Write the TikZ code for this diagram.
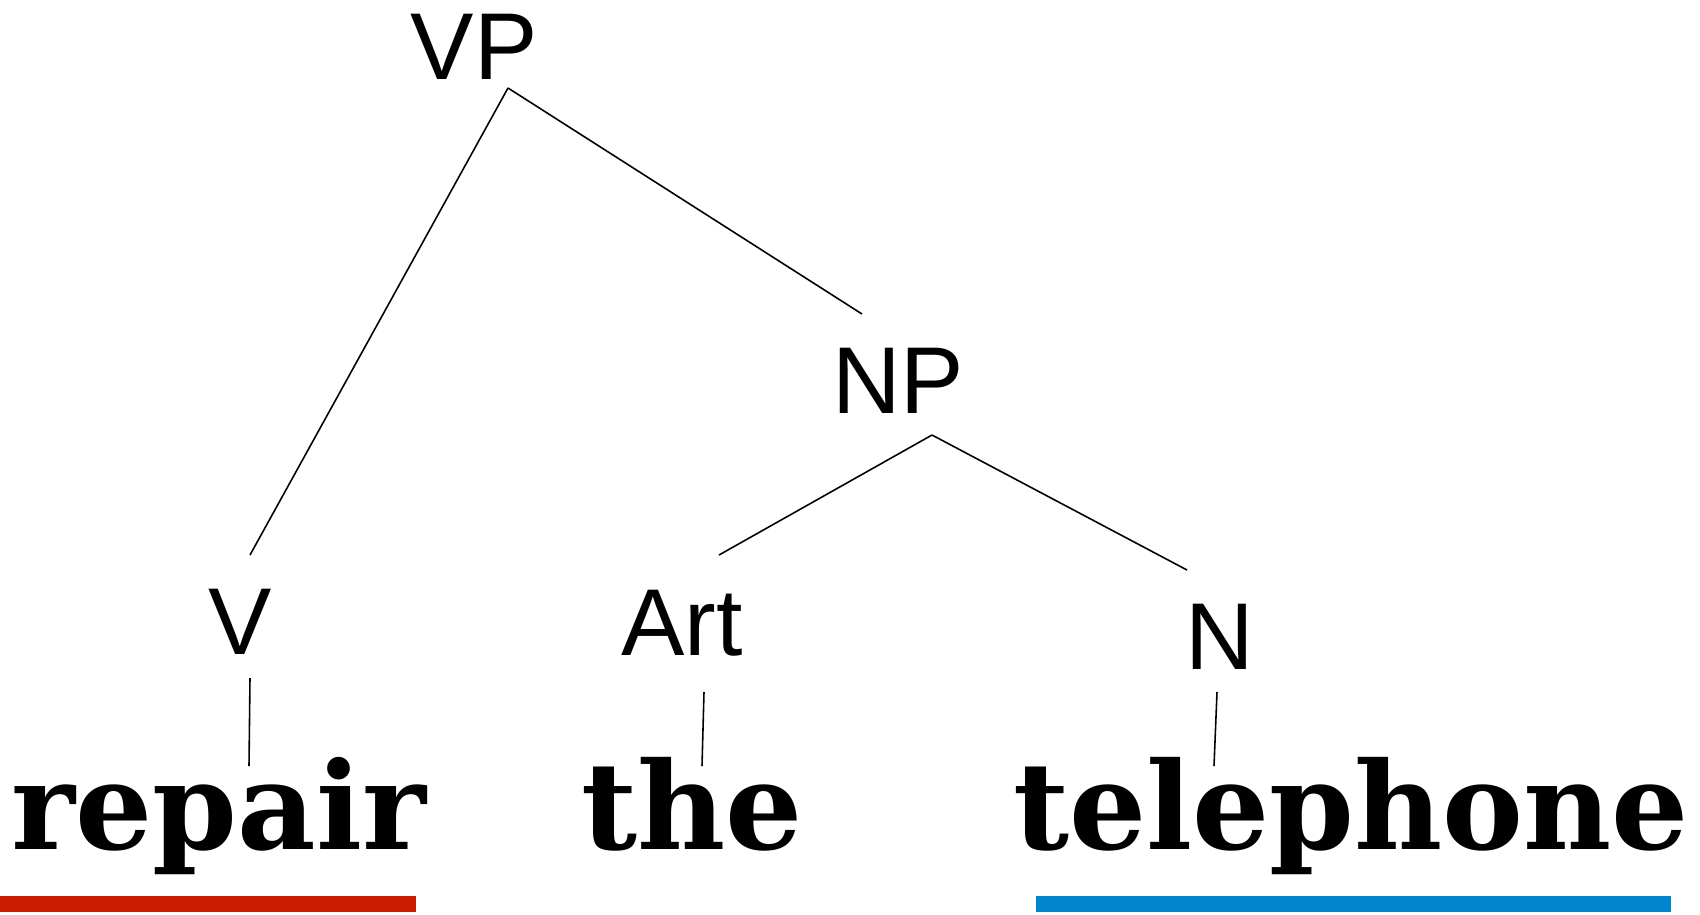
\documentclass[tikz,border=0pt]{standalone}
\usepackage{fontspec}
\newfontfamily\catfont{Liberation Sans}
\newfontfamily\wordfont{DejaVu Serif}
\usetikzlibrary{calc}
\definecolor{barred}{RGB}{204,28,0}
\definecolor{barblue}{RGB}{0,132,204}

\begin{document}
\begin{tikzpicture}[x=0.01cm,y=-0.01cm,
  every node/.style={inner sep=0pt,anchor=base},
  cat/.style={font=\catfont\fontsize{27}{27}\selectfont},
  word/.style={font=\wordfont\bfseries\fontsize{34.5}{34.5}\selectfont},
  branch/.style={line width=0.45pt}]

  \useasboundingbox (0,0) rectangle (1700,914);

  % Category nodes
  \node[cat] (VP) at (474,79) {VP};
  \node[cat] (NP) at (898,413) {NP};
  \node[cat] (V) at (240,654) {V};
  \node[cat] (Art) at (682,655) {Art};
  \node[cat] (N) at (1220,669) {N};

  % Words
  \node[word] (repair) at (219,849) {repair};
  \node[word] (the) at (692,849) {the};
  \node[word] (telephone) at (1351,849) {telephone};

  % Branches
  \draw[branch] ($(VP.base)+(34,9)$) -- ($(V.base)+(10,-99)$);
  \draw[branch] ($(VP.base)+(34,9)$) -- ($(NP.base)+(-36,-99)$);
  \draw[branch] ($(NP.base)+(34,22)$) -- ($(Art.base)+(37,-100)$);
  \draw[branch] ($(NP.base)+(34,22)$) -- ($(N.base)+(-33,-99)$);
  \draw[branch] ($(V.base)+(10,24)$) -- ($(repair.base)+(30,-83)$);
  \draw[branch] ($(Art.base)+(22,37)$) -- ($(the.base)+(10,-83)$);
  \draw[branch] ($(N.base)+(-3,23)$) -- ($(telephone.base)+(-137,-83)$);

  % Underlines
  \fill[barred] (0,896) rectangle (416,912);
  \fill[barblue] (1036,896) rectangle (1671,912);
\end{tikzpicture}
\end{document}
